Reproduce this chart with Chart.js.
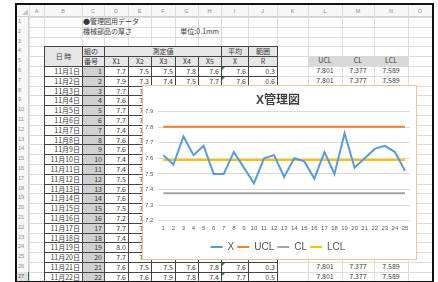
<!DOCTYPE html>
<html>
<head>
<meta charset="utf-8">
<script src="https://cdn.jsdelivr.net/npm/chart.js@4.4.1/dist/chart.umd.min.js"></script>
<style>
  body { margin: 0; width: 438px; height: 282px; overflow: hidden; background: #fff; position: relative;
         font-family: "Noto Sans CJK JP", "Liberation Sans", sans-serif; }
  .c { position: absolute; font-size: 7px; color: #3a3a3a; white-space: nowrap; box-sizing: border-box; }
  .ln { position: absolute; background: #dcdcdc; }
  #chartBox { position: absolute; left: 142px; top: 85px; width: 275px; height: 175px; box-sizing: border-box;
              border: 1px solid #f4c19f; background: #fff; z-index: 5; }
  #frame { position: absolute; left: 15px; top: 3px; width: 419px; height: 280px; box-sizing: border-box;
           border: 2px solid #111; z-index: 10; }
</style>
</head>
<body>
<div id="sheet"></div>
<div id="chartBox"><canvas id="xChart" width="273" height="173"></canvas></div>
<div id="frame"></div>
<script>
// chart data
const groupNo = ['1','2','3','4','5','6','7','8','9','10','11','12','13','14','15','16','17','18','19','20','21','22','23','24','25'];
const xBar = [7.62, 7.56, 7.74, 7.62, 7.68, 7.50, 7.50, 7.64, 7.54, 7.44, 7.60, 7.62, 7.48,
              7.60, 7.58, 7.47, 7.64, 7.50, 7.76, 7.54, 7.60, 7.66, 7.68, 7.64, 7.52];
const UCL = 7.801, CL = 7.377, LCL = 7.589;

// sheet data
const dates = ['11月1日','11月2日','11月3日','11月4日','11月5日','11月6日','11月7日','11月8日','11月9日','11月10日','11月11日',
               '11月12日','11月13日','11月14日','11月15日','11月16日','11月17日','11月18日','11月19日','11月20日','11月21日','11月22日'];
const x1Col = [7.7, 7.9, 7.7, 7.6, 7.7, 7.7, 7.4, 7.6, 7.6, 7.4, 7.4, 7.5, 7.6, 7.6, 7.5, 7.2, 7.7, 7.4, 8.0, 7.7, 7.6, 7.6];
const x2Col = [7.5, 7.3, 7.6, 7.5, 7.7, 7.6, 7.5, 7.7, 7.5, 7.6, 7.4, 7.6, 7.7, 7.5, 7.6, 7.5, 7.6, 7.7, 7.5, 7.6, 7.5, 7.6];
// full rows that show outside the chart: [X2, X3, X4, X5, avg, R]
const fullRows = {
  1:  [7.5, 7.5, 7.8, 7.6, 7.6, 0.3],
  2:  [7.3, 7.4, 7.5, 7.7, 7.6, 0.6],
  21: [7.5, 7.5, 7.6, 7.8, 7.6, 0.3],
  22: [7.6, 7.9, 7.8, 7.4, 7.7, 0.5]
};
const limitRows = [1, 2, 21, 22];

// ---- sheet layout ----
const sheet = document.getElementById('sheet');
const X = [16, 29, 44, 82, 104, 128, 151, 175, 198, 221, 248, 277, 308, 342, 374, 408, 432];
const colNames = ['A','B','C','D','E','F','G','H','I','J','K','L','M','N','O'];
const ROW_H = 9.8, TOP = 17;
const rt = r => TOP + (r - 1) * ROW_H;

function box(x0, y0, x1, y1, css, text) {
  const d = document.createElement('div');
  d.className = 'c';
  Object.assign(d.style, {left: x0 + 'px', top: y0 + 'px', width: (x1 - x0) + 'px',
    height: (y1 - y0) + 'px', lineHeight: (y1 - y0) + 'px'}, css || {});
  if (text != null) d.textContent = text;
  sheet.appendChild(d);
  return d;
}
function cell(c0, r0, c1, r1, text, css) {
  return box(X[c0], rt(r0), X[c1 + 1], rt(r1 + 1), css, text);
}
const R = {textAlign: 'right', paddingRight: '2px'};
const L = {textAlign: 'left', paddingLeft: '1px'};
const C = {textAlign: 'center'};

// headers
box(X[0], 5, 432, TOP, {background: '#f7f7f7', borderBottom: '1px solid #cfcfcf'});
box(X[0], TOP, X[1], 282, {background: '#f7f7f7', borderRight: '1px solid #cfcfcf'});
colNames.forEach((n, i) => box(X[i + 1], 5, X[i + 2], TOP,
  {textAlign: 'center', fontSize: '5.5px', color: '#8a8a8a', fontFamily: 'Liberation Sans'}, n));
for (let r = 1; r <= 27; r++) {
  box(X[0], rt(r), X[1], rt(r + 1), {textAlign: 'left', paddingLeft: '2px', fontSize: '5.5px',
    color: r === 27 ? '#217346' : '#8a8a8a', fontFamily: 'Liberation Sans',
    background: r === 27 ? '#e1e1e1' : 'transparent'}, String(r));
}
box(X[1] - 1, rt(27), X[1] + 1, rt(28), {background: '#217346'});
// corner triangle
box(22, 9, 28, 15, {width: '0', height: '0', borderLeft: '6px solid transparent', borderBottom: '6px solid #c8c8c8'});

// grid lines
for (let i = 1; i < X.length; i++) {
  const d = document.createElement('div'); d.className = 'ln';
  Object.assign(d.style, {left: X[i] + 'px', top: '5px', width: '1px', height: '277px'});
  sheet.appendChild(d);
}
for (let r = 1; r <= 28; r++) {
  const d = document.createElement('div'); d.className = 'ln';
  Object.assign(d.style, {left: X[1] + 'px', top: rt(r) + 'px', width: (432 - X[1]) + 'px', height: '1px'});
  sheet.appendChild(d);
}

// titles
cell(3, 1, 8, 1, '●管理図用データ', L);
cell(3, 2, 6, 2, '機械部品の厚さ', L);
cell(6, 2, 8, 2, '単位:0.1mm', R);

// table cells with dark borders
const B = {border: '1px solid #444'};
function tcell(c0, r0, c1, r1, text, css) {
  const d = box(X[c0], rt(r0), X[c1 + 1] + 1, rt(r1 + 1) + 1, Object.assign({}, B, css), text);
  d.style.lineHeight = (rt(r1 + 1) - rt(r0) - 1) + 'px';
  return d;
}
const HEAD = {background: '#e7e6e6', textAlign: 'center'};
tcell(2, 4, 2, 5, '日 時', HEAD);
tcell(3, 4, 3, 4, '組の', Object.assign({}, HEAD, L));
tcell(3, 5, 3, 5, '番号', Object.assign({}, HEAD, L));
tcell(4, 4, 8, 4, '測定値', HEAD);
['X1', 'X2', 'X3', 'X4', 'X5'].forEach((t, i) => tcell(4 + i, 5, 4 + i, 5, t, HEAD));
tcell(9, 4, 9, 4, '平均', HEAD);
tcell(9, 5, 9, 5, 'X', HEAD);
tcell(10, 4, 10, 4, '範囲', HEAD);
tcell(10, 5, 10, 5, 'R', HEAD);

dates.forEach((d, i) => {
  const r = 6 + i;
  tcell(2, r, 2, r, d, R);
  tcell(3, r, 3, r, String(i + 1), Object.assign({background: '#d0d0d0'}, R));
  tcell(4, r, 4, r, x1Col[i].toFixed(1), R);
  const full = fullRows[i + 1];
  for (let c = 5; c <= 10; c++) {
    let t = null;
    if (full) t = full[c - 5].toFixed(1);
    else if (c === 5) t = x2Col[i].toFixed(1);
    tcell(c, r, c, r, t, R);
  }
});
// error markers on the average column
[6, 7, 26, 27].forEach(r => box(X[9] + 1, rt(r) + 1, X[9] + 4, rt(r) + 4,
  {width: '0', height: '0', borderTop: '3px solid #1e8a3c', borderRight: '3px solid transparent'}));

// limit columns
cell(12, 5, 12, 5, 'UCL', Object.assign({background: '#d9d9d9'}, C));
cell(13, 5, 13, 5, 'CL', Object.assign({background: '#d9d9d9'}, C));
cell(14, 5, 14, 5, 'LCL', Object.assign({background: '#d9d9d9'}, C));
limitRows.forEach(g => {
  const r = 5 + g;
  cell(12, r, 12, r, UCL.toFixed(3), C);
  cell(13, r, 13, r, CL.toFixed(3), C);
  cell(14, r, 14, r, LCL.toFixed(3), C);
});

// ---- chart ----
Chart.defaults.font.family = "'Liberation Sans', 'Noto Sans CJK JP', sans-serif";
const flat = v => groupNo.map(() => v);
const line = (label, data, color) => ({
  label, data, borderColor: color, backgroundColor: color, borderWidth: 2,
  pointRadius: 0, tension: 0, fill: false
});

new Chart(document.getElementById('xChart'), {
  type: 'line',
  data: {
    labels: groupNo,
    datasets: [
      line('X', xBar, '#5b9bd5'),
      line('UCL', flat(UCL), '#ed7d31'),
      line('CL', flat(CL), '#a5a5a5'),
      line('LCL', flat(LCL), '#ffc000')
    ]
  },
  options: {
    responsive: false,
    animation: false,
    layout: {padding: {left: 3, right: 6, top: 0, bottom: 3}},
    plugins: {
      title: {display: true, text: 'X管理図', color: '#404040',
              font: {size: 12, weight: 'bold'}, padding: {top: 7, bottom: 4}},
      legend: {position: 'bottom', maxHeight: 17,
               labels: {usePointStyle: true, pointStyle: 'line', pointStyleWidth: 12,
                        padding: 3, color: '#595959', font: {size: 10}}},
      tooltip: {enabled: false}
    },
    scales: {
      x: {offset: true, grid: {display: false, drawTicks: false}, border: {display: false},
          ticks: {color: '#595959', font: {size: 6}, maxRotation: 0, autoSkip: false, padding: 4},
          afterFit(s) { s.height += 3; }},
      y: {min: 7.2, max: 7.9,
          ticks: {stepSize: 0.1, color: '#595959', font: {size: 6}, padding: 5,
                  callback: v => v.toFixed(1)},
          grid: {color: '#d9d9d9', drawTicks: false}, border: {display: false},
          afterFit(s) { s.width = 12.3; }}
    }
  }
});
</script>
</body>
</html>
